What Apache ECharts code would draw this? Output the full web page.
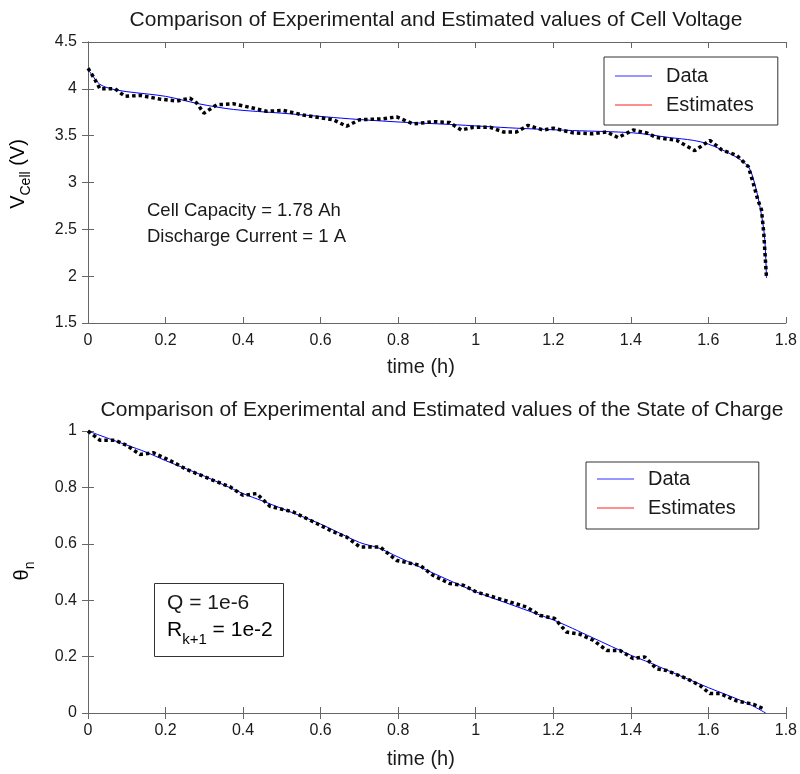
<!DOCTYPE html>
<html>
<head>
<meta charset="utf-8">
<script src="https://cdn.jsdelivr.net/npm/echarts@6/dist/echarts.min.js"></script>
<style>html,body{margin:0;padding:0;background:#fff;}#c{width:800px;height:774px;}</style>
</head>
<body>
<div id="c"></div>
<script>
// ---- data ----
const xTicks = [0, 0.2, 0.4, 0.6, 0.8, 1, 1.2, 1.4, 1.6, 1.8];
const vTicks = [1.5, 2, 2.5, 3, 3.5, 4, 4.5];
const socTicks = [0, 0.2, 0.4, 0.6, 0.8, 1];

const voltDataT = [0, 0.01, 0.03, 0.06, 0.1, 0.2, 0.286, 0.375, 0.5, 0.675, 0.805, 0.933, 1.105, 1.25, 1.406, 1.5, 1.561, 1.6, 1.664, 1.703, 1.72, 1.735, 1.745, 1.75];
const voltDataV = [4.21, 4.15, 4.05, 4.0, 3.97, 3.92, 3.84, 3.78, 3.74, 3.68, 3.645, 3.62, 3.58, 3.555, 3.53, 3.48, 3.45, 3.41, 3.29, 3.17, 2.98, 2.7, 2.42, 1.98];

const voltEstT = [0, 0.015, 0.031, 0.05, 0.07, 0.095, 0.134, 0.186, 0.229, 0.263, 0.28, 0.299, 0.332, 0.375, 0.409, 0.461, 0.504, 0.555, 0.633, 0.667, 0.70, 0.761, 0.796, 0.839, 0.89, 0.933, 0.963, 0.994, 1.037, 1.071, 1.105, 1.135, 1.174, 1.2, 1.251, 1.303, 1.338, 1.367, 1.406, 1.441, 1.466, 1.518, 1.565, 1.604, 1.634, 1.673, 1.703, 1.716, 1.728, 1.737, 1.743, 1.75];
const voltEstV = [4.22, 4.12, 4.0, 4.0, 4.0, 3.92, 3.93, 3.89, 3.87, 3.9, 3.85, 3.74, 3.83, 3.84, 3.81, 3.76, 3.77, 3.72, 3.67, 3.6, 3.67, 3.68, 3.70, 3.625, 3.65, 3.64, 3.56, 3.59, 3.59, 3.54, 3.54, 3.61, 3.56, 3.58, 3.53, 3.52, 3.54, 3.48, 3.56, 3.53, 3.48, 3.45, 3.34, 3.45, 3.35, 3.29, 3.17, 2.99, 2.81, 2.71, 2.46, 1.98];

const socDataT = [0, 0.1, 0.15, 0.2, 0.3, 0.4, 0.45, 0.5, 0.6, 0.7, 0.75, 0.8, 0.9, 1.0, 1.1, 1.2, 1.25, 1.3, 1.4, 1.45, 1.5, 1.6, 1.7, 1.748];
const socDataV = [1, 0.95, 0.925, 0.895, 0.84, 0.778, 0.752, 0.725, 0.67, 0.605, 0.585, 0.553, 0.49, 0.43, 0.38, 0.33, 0.3, 0.268, 0.205, 0.178, 0.148, 0.09, 0.035, 0];

const socEstT = [0, 0.031, 0.07, 0.1, 0.134, 0.168, 0.211, 0.254, 0.323, 0.366, 0.4, 0.435, 0.469, 0.529, 0.59, 0.633, 0.667, 0.701, 0.753, 0.796, 0.856, 0.89, 0.933, 0.968, 1.002, 1.088, 1.131, 1.166, 1.204, 1.234, 1.269, 1.303, 1.338, 1.372, 1.406, 1.436, 1.466, 1.492, 1.544, 1.578, 1.604, 1.63, 1.673, 1.716, 1.741];
const socEstV = [1.0, 0.967, 0.967, 0.949, 0.917, 0.923, 0.896, 0.864, 0.825, 0.802, 0.772, 0.778, 0.733, 0.713, 0.672, 0.642, 0.624, 0.589, 0.589, 0.541, 0.524, 0.488, 0.459, 0.453, 0.429, 0.394, 0.376, 0.346, 0.335, 0.287, 0.279, 0.258, 0.222, 0.222, 0.193, 0.199, 0.157, 0.151, 0.122, 0.098, 0.069, 0.069, 0.043, 0.031, 0.016];

const zip = (a, b) => a.map((x, i) => [x, b[i]]);

const FONT = 'Liberation Sans, Arial, Helvetica, sans-serif';
const AX = '#666';
const TXT = '#1a1a1a';

function xAxes(grid, nameGap) {
  const base = {
    type: 'value', gridIndex: grid, min: xTicks[0], max: xTicks[xTicks.length - 1], interval: 0.2,
    splitLine: { show: false },
    axisLine: { show: true, lineStyle: { color: AX, width: 1 } },
    axisTick: { show: true, inside: true, length: 6, lineStyle: { color: AX } }
  };
  return [
    Object.assign({}, base, {
      position: 'bottom',
      axisLabel: { fontSize: 16, color: TXT, fontFamily: FONT, margin: 10 },
      name: 'time (h)', nameLocation: 'middle', nameGap: nameGap,
      nameTextStyle: { fontSize: 20, color: TXT, fontFamily: FONT, padding: [0, 32, 0, 0] }
    }),
    Object.assign({}, base, { position: 'top', axisLabel: { show: false } })
  ];
}
function yAxes(grid, ticks, interval) {
  const base = {
    type: 'value', gridIndex: grid, min: ticks[0], max: ticks[ticks.length - 1], interval: interval,
    splitLine: { show: false },
    axisLine: { show: true, lineStyle: { color: AX, width: 1 } },
    axisTick: { show: true, inside: true, length: 6, lineStyle: { color: AX } }
  };
  return [
    Object.assign({}, base, { position: 'left', axisLabel: { fontSize: 16, color: TXT, fontFamily: FONT, margin: 11 } }),
    Object.assign({}, base, { position: 'right', axisLabel: { show: false } })
  ];
}

const estStyle = { color: '#000', width: 3.5, type: [3.5, 3], cap: 'butt' };
const dataStyle = { color: '#0000ff', width: 1 };

// thin horizontal line icon; tiny corner marks fix the bounding box to 37x14
const LINE_ICON = 'path://M0,0L0.01,0L0,0.01Z M0,6.5L37,6.5L37,7.6L0,7.6Z M37,14L36.99,14L37,13.99Z';

function legendAt(left, top, padding) {
  return {
    orient: 'vertical', left: left, top: top, padding: padding,
    borderColor: '#333', borderWidth: 1, backgroundColor: '#fff',
    itemWidth: 37, itemHeight: 14, itemGap: 9,
    textStyle: { fontSize: 20, color: TXT, fontFamily: FONT, lineHeight: 20, padding: [0, 0, 0, 9] },
    selectedMode: false,
    data: [
      { name: 'Data', icon: LINE_ICON, itemStyle: { color: '#3030ff', borderWidth: 0 } },
      { name: 'Estimates', icon: LINE_ICON, itemStyle: { color: '#ff2020', borderWidth: 0 } }
    ]
  };
}

const subRich = {
  b: { fontSize: 20, lineHeight: 20, verticalAlign: 'top', fontFamily: FONT, color: TXT },
  s: { fontSize: 14, lineHeight: 25, verticalAlign: 'bottom', fontFamily: FONT, color: TXT }
};
const subRich2 = {
  b: { fontSize: 21, lineHeight: 21, verticalAlign: 'top', fontFamily: FONT, color: TXT },
  s: { fontSize: 15, lineHeight: 27, verticalAlign: 'bottom', fontFamily: FONT, color: TXT }
};

const chart = echarts.init(document.getElementById('c'), null, { renderer: 'canvas' });
chart.setOption({
  backgroundColor: '#fff',
  animation: false,
  title: [
    { text: 'Comparison of Experimental and Estimated values of Cell Voltage', left: 431, textAlign: 'center', top: 5,
      textStyle: { fontSize: 21, fontWeight: 'normal', color: TXT, fontFamily: FONT } },
    { text: 'Comparison of Experimental and Estimated values of the State of Charge', left: 437, textAlign: 'center', top: 395,
      textStyle: { fontSize: 21, fontWeight: 'normal', color: TXT, fontFamily: FONT } }
  ],
  grid: [
    { left: 88, right: 14, top: 42, height: 281 },
    { left: 88, right: 14, top: 431, height: 282 }
  ],
  xAxis: [].concat(xAxes(0, 34), xAxes(1, 36)),
  yAxis: [].concat(yAxes(0, vTicks, 0.5), yAxes(1, socTicks, 0.2)),
  legend: [
    legendAt(604, 57, [9, 24, 10, 11]),
    legendAt(586, 462, [7, 23, 11, 11])
  ],
  series: [
    { name: 'Data', type: 'line', xAxisIndex: 0, yAxisIndex: 0, data: zip(voltDataT, voltDataV), showSymbol: false, symbol: 'none', smooth: 0.3, lineStyle: dataStyle, z: 2 },
    { name: 'Estimates', type: 'line', xAxisIndex: 0, yAxisIndex: 0, data: zip(voltEstT, voltEstV), showSymbol: false, symbol: 'none', lineStyle: estStyle, z: 3 },
    { name: 'Data', type: 'line', xAxisIndex: 2, yAxisIndex: 2, data: zip(socDataT, socDataV), showSymbol: false, symbol: 'none', smooth: 0.3, lineStyle: dataStyle, z: 2 },
    { name: 'Estimates', type: 'line', xAxisIndex: 2, yAxisIndex: 2, data: zip(socEstT, socEstV), showSymbol: false, symbol: 'none', lineStyle: estStyle, z: 3 }
  ],
  graphic: [
    { type: 'text', left: 147, top: 201, style: { text: 'Cell Capacity = 1.78 Ah', font: '18.5px ' + FONT, fill: TXT } },
    { type: 'text', left: 147, top: 227, style: { text: 'Discharge Current = 1 A', font: '18.5px ' + FONT, fill: TXT } },
    { type: 'rect', shape: { x: 154.5, y: 583.5, width: 129, height: 73 }, style: { fill: '#fff', stroke: '#333', lineWidth: 1 }, z: 10 },
    { type: 'text', x: 167, y: 603, z: 11, style: { text: 'Q = 1e-6', font: '21px ' + FONT, fill: TXT, verticalAlign: 'middle' } },
    { type: 'text', x: 167, y: 620, z: 11, style: { text: '{b|R}{s|k+1}{b| = 1e-2}', rich: subRich2, verticalAlign: 'top' } },
    { type: 'text', x: 21, y: 174, rotation: Math.PI / 2, z: 11,
      style: { text: '{b|V}{s|Cell}{b| (V)}', rich: subRich, align: 'center', verticalAlign: 'middle' } },
    { type: 'text', x: 25, y: 571, rotation: Math.PI / 2, z: 11,
      style: { text: '{b|θ}{s|n}', rich: subRich, align: 'center', verticalAlign: 'middle' } }
  ]
});
</script>
</body>
</html>
